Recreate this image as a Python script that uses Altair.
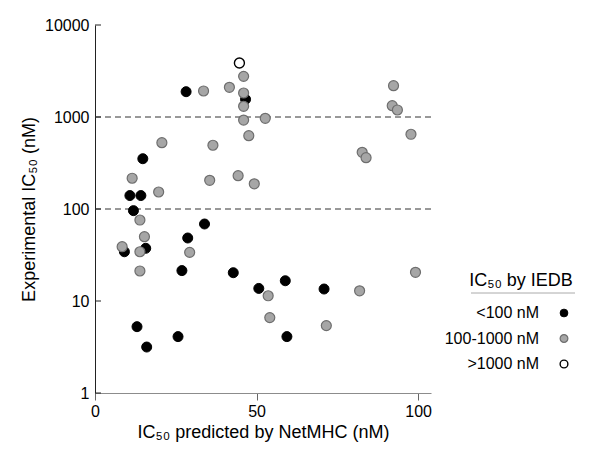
import altair as alt
import pandas as pd

FONT = "Liberation Sans"

# ---- data ----
categories = ["<100 nM", "100-1000 nM", ">1000 nM"]

black_x = [28.2, 46.6, 14.8, 10.8, 14.2, 11.9, 15.7, 9.1, 28.7, 33.9, 26.9, 42.8,
           50.7, 58.9, 59.4, 13.0, 16.0, 25.7, 70.9]
black_y = [1884, 1557, 352, 140, 140, 96, 37.4, 34.3, 48.4, 68.7, 21.4, 20.3,
           13.7, 16.6, 4.1, 5.26, 3.16, 4.1, 13.5]

gray_x = [46.0, 33.6, 41.6, 46.0, 46.0, 46.0, 52.7, 47.6, 20.7, 36.5, 11.5, 35.5,
          44.3, 49.3, 19.7, 13.9, 15.3, 8.4, 13.9, 13.9, 29.3, 53.6, 54.1, 81.9,
          99.2, 71.6, 92.4, 92.0, 93.6, 97.8, 82.7, 83.9]
gray_y = [2767, 1918, 2104, 1823, 1306, 927, 968, 626, 526, 493, 216, 205,
          230, 188, 153, 75.9, 50, 38.9, 34.3, 21.2, 33.8, 11.4, 6.6, 12.9,
          20.5, 5.4, 2189, 1327, 1192, 649, 413, 361]

open_x = [44.7]
open_y = [3864]

x_ticks = [0, 50, 100]
y_ticks = [1, 10, 100, 1000, 10000]
cutoffs = [100, 1000]

fills = ["#000000", "#a6a6a6", "#ffffff"]
strokes = ["#000000", "#6e6e6e", "#000000"]
stroke_widths = [1.0, 1.4, 2.0]

legend_title = ["IC₅₀ by IEDB"]

rows = []
for xs, ys, c in [(black_x, black_y, categories[0]),
                  (gray_x, gray_y, categories[1]),
                  (open_x, open_y, categories[2])]:
    for a, b in zip(xs, ys):
        rows.append({"x": a, "y": b, "cat": c})
df = pd.DataFrame(rows)

xscale = alt.Scale(domain=[0, 104], nice=False, zero=False)
yscale = alt.Scale(type="log", domain=[1, 10000], nice=False)

fill_enc = alt.Fill("cat:N", scale=alt.Scale(domain=categories, range=fills), legend=None)
stroke_enc = alt.Stroke("cat:N", scale=alt.Scale(domain=categories, range=strokes), legend=None)
sw_enc = alt.StrokeWidth("cat:O", scale=alt.Scale(domain=categories, range=stroke_widths), legend=None)

x_axis = alt.Axis(values=x_ticks, title="IC₅₀ predicted by NetMHC (nM)",
                  labelFontSize=16, titleFontSize=18, titleFontWeight="normal",
                  labelColor="#000", titleColor="#000", domainColor="#8c8c8c",
                  tickColor="#666", tickSize=7, labelPadding=3, titlePadding=4,
                  labelFlush=False, grid=False)
y_axis = alt.Axis(values=y_ticks, title="Experimental IC₅₀ (nM)", format="d",
                  labelFontSize=16, titleFontSize=18, titleFontWeight="normal",
                  labelColor="#000", titleColor="#000", domainColor="#222",
                  ticks=False, labelPadding=6, titlePadding=6,
                  labelOverlap=False, grid=False)

points = alt.Chart(df).mark_point(shape="circle", size=100, opacity=1).encode(
    x=alt.X("x:Q", scale=xscale, axis=x_axis),
    y=alt.Y("y:Q", scale=yscale, axis=y_axis),
    fill=fill_enc, stroke=stroke_enc, strokeWidth=sw_enc,
)

rules = alt.Chart(pd.DataFrame({"y": cutoffs})).mark_rule(
    color="#333333", strokeDash=[6, 4], strokeWidth=1
).encode(y=alt.Y("y:Q", scale=yscale))

inward_ticks = alt.Chart(pd.DataFrame({"y": y_ticks})).mark_rule(
    color="#222", strokeWidth=1
).encode(y=alt.Y("y:Q", scale=yscale), x=alt.value(0), x2=alt.value(6))

main = alt.layer(rules, inward_ticks, points).properties(width=336, height=368)

# ---- manual legend (labels left of symbols) ----
leg_df = pd.DataFrame({"cat": categories})
ly = alt.Y("cat:N", scale=alt.Scale(type="point", domain=categories, range=[288, 339], padding=0), axis=None)

leg_text = alt.Chart(leg_df).mark_text(align="right", baseline="middle", fontSize=16,
                                       font=FONT, color="#000").encode(
    y=ly, x=alt.value(88), text="cat:N")
leg_pts = alt.Chart(leg_df).mark_point(shape="circle", size=60, opacity=1).encode(
    y=ly, x=alt.value(113), fill=fill_enc, stroke=stroke_enc, strokeWidth=sw_enc)
leg_title = alt.Chart(pd.DataFrame({"t": legend_title})).mark_text(
    align="center", baseline="middle", fontSize=18, font=FONT, color="#000"
).encode(x=alt.value(70), y=alt.value(256), text="t:N")
leg_rule = alt.Chart(pd.DataFrame({"t": legend_title})).mark_rule(
    color="#aaaaaa", strokeWidth=1
).encode(x=alt.value(20), x2=alt.value(124), y=alt.value(268))

legend = alt.layer(leg_title, leg_rule, leg_text, leg_pts).properties(width=130, height=368)

chart = alt.hconcat(main, legend, spacing=20, bounds="flush").properties(
    padding={"left": 12, "top": 9, "right": 5, "bottom": 5},
    background="white",
).configure(font=FONT).configure_view(strokeWidth=0, stroke=None)

chart.save("out.html", embed_options={"renderer": "svg", "actions": False})
